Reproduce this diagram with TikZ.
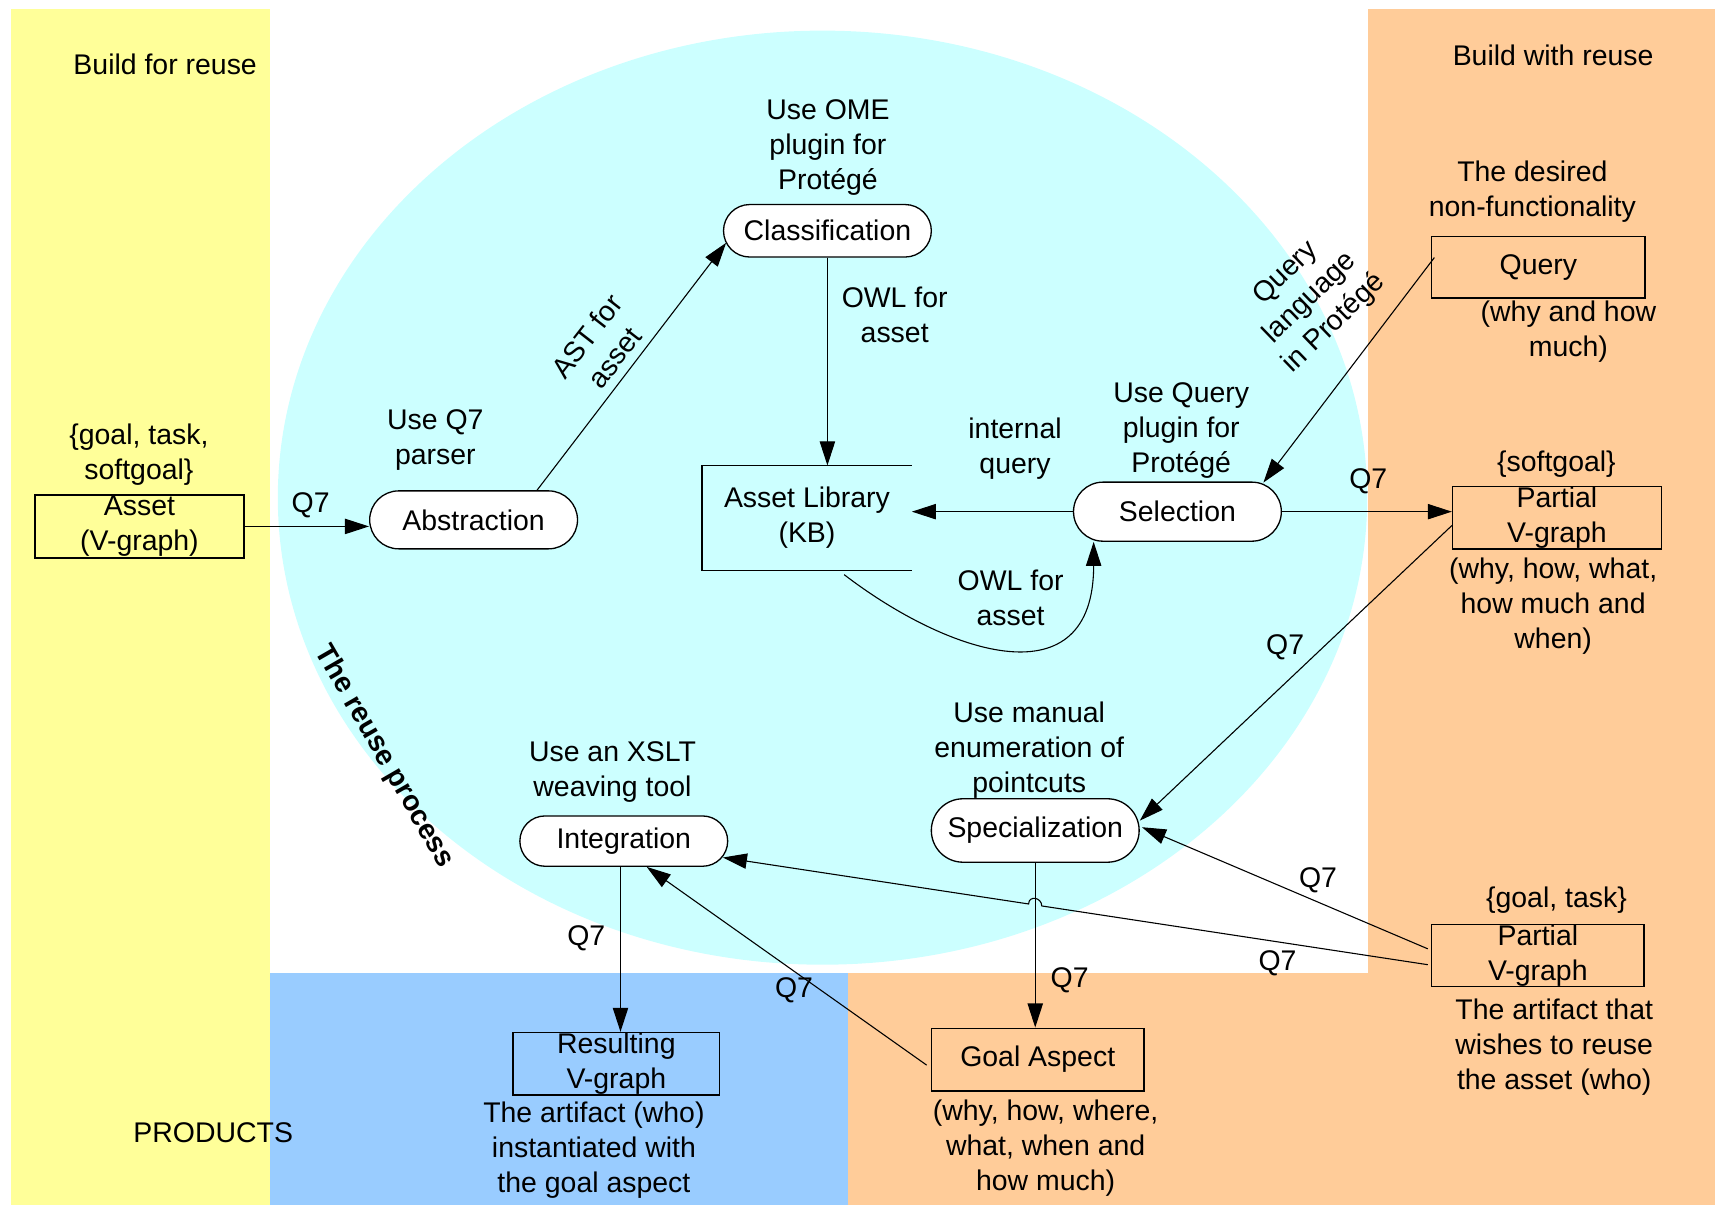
\documentclass[tikz,border=0pt]{standalone}
\usepackage{fontspec}
\setmainfont{Liberation Sans}
\usepackage{tikz}
\usetikzlibrary{calc,arrows.meta}
\definecolor{buildfor}{HTML}{FFFF99}
\definecolor{buildwith}{HTML}{FFCC99}
\definecolor{processbg}{HTML}{CCFFFF}
\definecolor{productbg}{HTML}{99CCFF}
\tikzset{
process/.style={draw, fill=white, rectangle, line width=0.6pt, rounded corners=#1, minimum height=2*#1, minimum width=95pt, inner sep=0pt}, % rounded process boxes
artifact/.style={draw, rectangle, line width=0.6pt, minimum width=95.5pt, minimum height=28.5pt, inner sep=0pt, align=center},
note/.style={align=center, inner sep=0pt},
flow/.style={line width=0.5pt, -{Triangle[length=11pt,width=7pt]}},
}

\begin{document}
\begin{tikzpicture}[x=0.5pt,y=0.5pt,yscale=-1,xscale=1,font=\fontsize{13}{16}\selectfont]
\useasboundingbox (0,0) rectangle (1568,1102);
%Background areas
\fill[buildfor] (10,8) rectangle (247,1102);
\fill[processbg] (752,455) ellipse [x radius=498, y radius=427];
\fill[buildwith] (1251,8) rectangle (1568,1102);
\fill[productbg] (247,890) rectangle (775,1102);
\fill[buildwith] (775,890) rectangle (1251,1102);

\node[note] (buildforlbl) at (151,59) {Build for reuse};
\node[note] (buildwithlbl) at (1420,51) {Build with reuse};
\node[note] (productslbl) at (195,1036) {PRODUCTS};
\node[note, rotate=-60, font=\fontsize{13}{16}\selectfont\bfseries] (reuselbl) at (351,692) {The reuse process};

%Rounded Rect
\node[process=12pt] (class) at (756.5,211) {Classification};
\node[process=13.25pt] (abstr) at (433,475.3) {Abstraction};
\node[process=13.5pt] (sel) at (1076.5,467.8) {Selection};
\node[process=14.5pt] (spec) at (946.5,759.3) {Specialization};
\node[process=11.5pt] (integ) at (570.3,769) {Integration};

%Rect
\node[artifact, minimum height=28.75pt] (asset) at (127.5,481.3) {Asset\\(V-graph)};
\node[artifact, minimum width=97.5pt, minimum height=28pt] (query) at (1406.5,244.5) {Query};
\node[artifact] (part1) at (1423.5,473.5) {Partial\\V-graph};
\node[artifact, minimum width=97pt] (part2) at (1406,873.5) {Partial\\V-graph};
\node[artifact, minimum width=97pt, minimum height=28.75pt] (goal) at (948.8,968.8) {Goal Aspect};
\node[artifact, minimum width=94.5pt] (res) at (563.5,972.5) {Resulting\\V-graph};

%Data store
\node[note, minimum width=95.5pt, minimum height=47.5pt] (lib) at (737.8,473.5) {Asset Library\\(KB)};
\draw[line width=0.6pt] (lib.north east) -- (lib.north west) -- (lib.south west) -- (lib.south east);

\node[note] (assettypes) at (127,416) {\{goal, task,\\softgoal\}};
\node[note] (abstrtool) at (398,402) {Use Q7\\parser};
\node[note] (classtool) at (757,135) {Use OME\\plugin for\\Protégé};
\node[note, rotate=52] (astlbl) at (549,317) {AST for\\asset};
\node[note] (owlclass) at (818,288) {OWL for\\asset};
\node[note] (internallbl) at (928,410) {internal\\query};
\node[note] (seltool) at (1080,394) {Use Query\\plugin for\\Protégé};
\node[note] (owlsel) at (924,547) {OWL for\\asset};
\node[note, rotate=44] (querylang) at (1198,273) {Query\\language\\in Protégé};
\node[note] (desiredlbl) at (1401,175) {The desired\\non-functionality};
\node[note] (querydims) at (1434,303) {(why and how\\much)};
\node[note] (softlbl) at (1423,424) {\{softgoal\}};
\node[note] (part1dims) at (1420,554) {(why, how, what,\\how much and\\when)};
\node[note] (spectool) at (941,686) {Use manual\\enumeration of\\pointcuts};
\node[note] (integtool) at (560,706) {Use an XSLT\\weaving tool};
\node[note] (goaldims) at (956,1050) {(why, how, where,\\what, when and\\how much)};
\node[note] (resdesc) at (543,1052) {The artifact (who)\\instantiated with\\the goal aspect};
\node[note] (goaltask) at (1423,823) {\{goal, task\}};
\node[note] (part2desc) at (1421,957) {The artifact that\\wishes to reuse\\the asset (who)};

\node[note] (qa) at (284,462) {Q7};
\node[note] (qb) at (1251,440) {Q7};
\node[note] (qc) at (1175,592) {Q7};
\node[note] (qd) at (536,858) {Q7};
\node[note] (qe) at (978,896) {Q7};
\node[note] (qf) at (726,905) {Q7};
\node[note] (qg) at (1205,805) {Q7};
\node[note] (qh) at (1168,881) {Q7};

%Connectors
\draw[flow] (asset.east) -- (asset.east -| abstr.west);
\draw[flow] ($(abstr.north)+(58,0)$) -- ($(class.west)+(3,11)$);
\draw[flow] (class.south) -- (class.south |- lib.north);
\draw[flow] (sel.west) -- (sel.west -| lib.east);
\draw[flow] ($(lib.south)+(34,4)$) .. controls +(98,75) and +(0,145) .. ($(sel.south west)+(19,0)$);
\draw[flow] ($(query.west)+(3,-9)$) -- ($(sel.north east)+(-17,1)$);
\draw[flow] (sel.east) -- (sel.east -| part1.west);
\draw[flow] ($(part1.west)+(0,7)$) -- ($(spec.east)+(0,-9)$);
\draw[flow] ($(part2.west)+(-3,-6)$) -- ($(spec.east)+(2,-3)$);
\coordinate (gtop) at (spec.south |- goal.north);
\draw[flow] (spec.south) -- (gtop);
\coordinate (intout) at ($(integ.south)+(-3,0)$);
\draw[flow] (intout) -- (intout |- res.north);
\draw[flow] ($(goal.west)+(-4,5)$) -- ($(integ.south)+(21,0)$);
%Line hop over the vertical connector
\coordinate (hs) at ($(part2.west)+(-3,8.5)$);
\coordinate (he) at ($(integ.east)+(-5,15)$);
\coordinate (hop) at (intersection of spec.south--gtop and hs--he);
\draw[flow] (hs) -- ($(hop)+(6,0.9)$) .. controls +(0,-8) and +(0,-8) .. ($(hop)+(-6,-0.9)$) -- (he);
\end{tikzpicture}
\end{document}
